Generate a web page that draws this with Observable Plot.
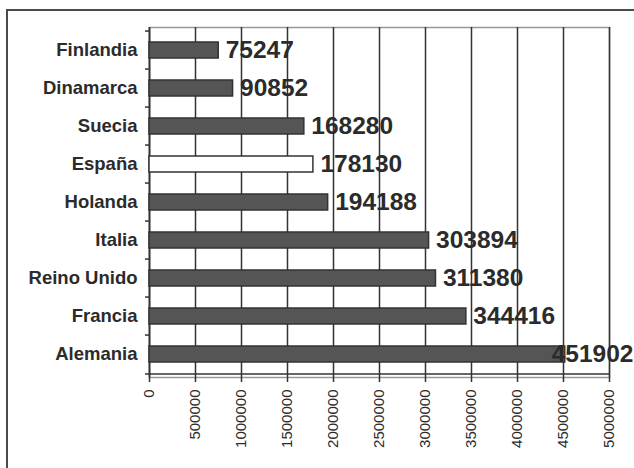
<!DOCTYPE html>
<html>
<head>
<meta charset="utf-8">
<script src="https://cdn.jsdelivr.net/npm/d3@7"></script>
<script src="https://cdn.jsdelivr.net/npm/@observablehq/plot@0.6"></script>
<style>
  html, body { margin: 0; padding: 0; background: #fff; overflow: hidden; }
  #wrap { position: relative; width: 634px; height: 468px; }
  #outer { position: absolute; left: 6px; top: 9px; width: 700px; height: 600px; border: 2px solid #4a4a4a; box-sizing: border-box; }
  #chart { position: absolute; left: 0; top: 0; }
</style>
</head>
<body>
<div id="wrap"><div id="outer"></div><div id="chart"></div></div>
<script>
const categories = ["Finlandia", "Dinamarca", "Suecia", "España", "Holanda", "Italia", "Reino Unido", "Francia", "Alemania"];
const values = [75247, 90852, 168280, 178130, 194188, 303894, 311380, 344416, 451902];
const highlighted = "España";
const xTicks = [0, 50000, 100000, 150000, 200000, 250000, 300000, 350000, 400000, 450000, 500000];
const xTickLabels = ["0", "500000", "1000000", "1500000", "2000000", "2500000", "3000000", "3500000", "4000000", "4500000", "5000000"];

const W = 634, H = 468;
const mL = 149, mR = 25, mT = 27, mB = 91;
const plotW = W - mL - mR, plotH = H - mT - mB;
const step = plotH / categories.length;
const xMax = 500000;
const ink = "#2b2b2b";
const labelSize = 24.5, labelDx = 7;

const data = categories.map((c, i) => ({cat: c, value: values[i]}));
const fits = d => mL + d.value * plotW / xMax + labelDx + String(d.value).length * 0.556 * labelSize <= W;

const chart = Plot.plot({
  width: W, height: H,
  marginLeft: mL, marginRight: mR, marginTop: mT, marginBottom: mB,
  style: {fontFamily: "'Liberation Sans', Arial, sans-serif", color: ink, background: "transparent"},
  x: {domain: [0, xMax]},
  y: {domain: categories, paddingInner: 0.58, paddingOuter: 0.29},
  marks: [
    Plot.frame({stroke: "#999", strokeWidth: 1.5}),
    Plot.gridX(xTicks, {stroke: "#333", strokeOpacity: 1, strokeWidth: 1.5}),
    Plot.axisX(xTicks, {tickSize: 5, tickPadding: 7, tickRotate: -90, fontSize: 15, label: null,
      tickFormat: d => xTickLabels[xTicks.indexOf(d)], stroke: "#333", strokeWidth: 1.5}),
    Plot.axisY({tickSize: 0, tickPadding: 12, fontSize: 18.5, fontWeight: "bold", label: null}),
    Plot.ruleX([0], {stroke: "#333", strokeWidth: 1.5}),
    Plot.ruleY([categories[categories.length - 1]], {dy: step / 2, stroke: "#333", strokeWidth: 1.5}),
    Plot.ruleY(categories, {dy: -step / 2, insetLeft: -4, insetRight: plotW, stroke: "#333", strokeWidth: 1.5}),
    Plot.ruleY([categories[categories.length - 1]], {dy: step / 2, insetLeft: -4, insetRight: plotW, stroke: "#333", strokeWidth: 1.5}),
    Plot.barX(data, {x: "value", y: "cat", fill: d => d.cat === highlighted ? "#ffffff" : "#555555", stroke: "#333", strokeWidth: 1.5}),
    Plot.text(data.filter(fits), {x: "value", y: "cat", text: d => String(d.value), dx: labelDx, textAnchor: "start",
      fontSize: labelSize, fontWeight: "bold", fill: ink}),
    Plot.text(data.filter(d => !fits(d)), {y: "cat", text: d => String(d.value), frameAnchor: "right", dx: 24, textAnchor: "end",
      fontSize: labelSize, fontWeight: "bold", fill: ink})
  ]
});
document.getElementById("chart").appendChild(chart);
</script>
</body>
</html>
